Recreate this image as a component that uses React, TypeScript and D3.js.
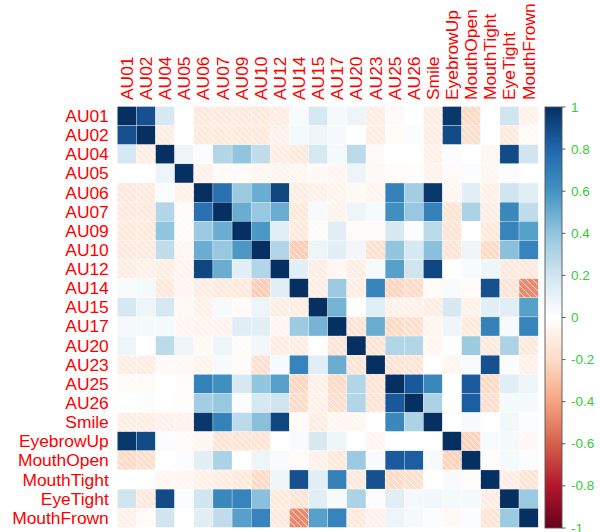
import React from "react";
import * as d3 from "d3";

const labels = ["AU01","AU02","AU04","AU05","AU06","AU07","AU09","AU10","AU12","AU14","AU15","AU17","AU20","AU23","AU25","AU26","Smile","EyebrowUp","MouthOpen","MouthTight","EyeTight","MouthFrown"];

// lower triangle of the correlation matrix (row i: values for columns 0..i-1)
const lower: number[][] = [
  [],
  [0.88],
  [0.18, -0.1],
  [0, 0, 0.08],
  [-0.12, -0.12, 0.02, -0.08],
  [-0.12, -0.12, 0.3, -0.03, 0.75],
  [-0.12, -0.12, 0.4, -0.03, 0.37, 0.5],
  [-0.12, -0.12, 0.25, -0.05, 0.5, 0.38, 0.58],
  [-0.1, -0.08, -0.1, -0.06, 0.92, 0.5, 0.12, 0.3],
  [0.03, 0.05, -0.12, -0.05, -0.1, -0.12, -0.12, -0.25, 0.12],
  [0.18, 0.08, 0.18, -0.04, -0.08, 0.04, -0.03, 0.08, -0.1, -0.1],
  [0.05, 0.05, 0.05, -0.05, -0.06, -0.06, 0.13, 0.12, -0.05, 0.37, 0.47],
  [0.08, 0, 0.27, 0.08, -0.04, 0.08, -0.03, 0.06, -0.1, -0.1, 0.01, -0.15],
  [-0.1, -0.1, -0.03, -0.04, -0.06, 0.04, -0.03, -0.17, 0.04, 0.67, 0.13, 0.5, -0.15],
  [-0.03, -0.03, 0, -0.02, 0.68, 0.62, 0.17, 0.4, 0.55, -0.22, -0.08, -0.2, 0.3, -0.15],
  [0, 0.02, 0, -0.01, 0.35, 0.38, 0.02, 0.18, 0.2, -0.2, -0.08, -0.18, 0.3, -0.15, 0.85],
  [-0.1, -0.1, -0.08, -0.07, 0.97, 0.68, 0.27, 0.42, 0.92, -0.03, -0.1, -0.05, -0.05, 0, 0.65, 0.32],
  [0.97, 0.9, 0.02, -0.03, -0.05, -0.15, -0.15, -0.15, 0, 0.03, 0.17, 0.07, 0.01, -0.05, 0, 0, 0],
  [-0.2, -0.18, 0, 0.02, 0.12, 0.32, 0, 0.08, 0.03, -0.03, -0.08, -0.12, 0.37, 0.03, 0.84, 0.83, 0.04, -0.23],
  [0, 0.01, -0.05, -0.05, -0.08, -0.1, -0.12, -0.2, 0.07, 0.88, 0.12, 0.68, -0.12, 0.88, -0.2, -0.18, 0, 0.03, -0.02],
  [0.2, -0.12, 0.9, 0.02, 0.2, 0.65, 0.67, 0.42, -0.12, -0.15, 0.13, 0.04, 0.32, 0.02, 0.13, 0.05, 0.06, 0.05, 0.05, -0.1],
  [-0.08, -0.03, 0.2, 0, 0.13, 0.25, 0.55, 0.67, -0.12, -0.48, 0.55, 0.67, -0.12, -0.08, 0.08, 0.05, 0.02, -0.04, 0.02, -0.15, 0.37],
];

const legendTicks = [1, 0.8, 0.6, 0.4, 0.2, 0, -0.2, -0.4, -0.6, -0.8, -1];
const paletteColors = ["#67001F", "#B2182B", "#D6604D", "#F4A582", "#FDDBC7", "#FFFFFF", "#D1E5F0", "#92C5DE", "#4393C3", "#2166AC", "#053061"];

const n = labels.length;
const corr: number[][] = labels.map((_, i) =>
  labels.map((_, j) => (i === j ? 1 : i > j ? lower[i][j] : lower[j][i]))
);

const gridLeft = 117.3;
const gridTop = 106.5;
const cell = 19.13;

const x = d3.scaleBand<number>().domain(d3.range(n)).range([gridLeft, gridLeft + n * cell]);
const y = d3.scaleBand<number>().domain(d3.range(n)).range([gridTop, gridTop + n * cell]);

const color = d3
  .scaleLinear<string>()
  .domain(d3.range(11).map((k) => -1 + k * 0.2))
  .range(paletteColors)
  .interpolate(d3.interpolateRgb)
  .clamp(true);

const barX = 545;
const barW = 17;
const barY = d3.scaleLinear().domain([1, -1]).range([gridTop + 0.5, gridTop + 0.5 + 2 * 210.5]);

const FONT = "'Liberation Sans', Arial, Helvetica, sans-serif";

function hatch(x0: number, y0: number, s: number) {
  const segs: [number, number, number, number][] = [];
  for (let k = -2; k <= 2; k++) {
    const t = (k * s) / 3;
    if (t >= 0) segs.push([x0 + t, y0, x0 + s, y0 + s - t]);
    else segs.push([x0, y0 - t, x0 + s + t, y0 + s]);
  }
  return segs;
}

export default function App() {
  const cells: JSX.Element[] = [];
  const lines: JSX.Element[] = [];
  for (let i = 0; i < n; i++) {
    for (let j = 0; j < n; j++) {
      const v = corr[i][j];
      const cx = x(j)!;
      const cy = y(i)!;
      cells.push(
        <rect key={`c${i}-${j}`} x={cx} y={cy} width={x.bandwidth()} height={y.bandwidth()} fill={color(v)} stroke="#ffffff" strokeWidth={0.3} />
      );
      if (v < 0) {
        hatch(cx, cy, x.bandwidth()).forEach((s, k) =>
          lines.push(<line key={`h${i}-${j}-${k}`} x1={s[0]} y1={s[1]} x2={s[2]} y2={s[3]} stroke="#ffffff" strokeWidth={0.9} strokeOpacity={0.85} />)
        );
      }
    }
  }
  const gradStops = d3.range(0, 101).map((k) => {
    const v = 1 - (k / 100) * 2;
    return <stop key={k} offset={`${k}%`} stopColor={color(v)} />;
  });
  return (
    <svg width={600} height={532} style={{ position: "absolute", left: 0, top: 0 }} fontFamily={FONT}>
      <defs>
        <linearGradient id="cbar" x1="0" y1="0" x2="0" y2="1">
          {gradStops}
        </linearGradient>
      </defs>
      <rect x={0} y={0} width={600} height={532} fill="#ffffff" />
      <g>{cells}</g>
      <g>{lines}</g>
      {labels.map((l, i) => (
        <text key={`r${i}`} x={gridLeft - 8.5} y={y(i)! + y.bandwidth() / 2} textAnchor="end" dominantBaseline="central" fill="#ff0000" fontSize={17.4}>
          {l}
        </text>
      ))}
      {labels.map((l, j) => (
        <text key={`t${j}`} transform={`translate(${x(j)! + x.bandwidth() / 2},${gridTop - 6.5}) rotate(-90)`} textAnchor="start" dominantBaseline="central" fill="#ff0000" fontSize={17.4}>
          {l}
        </text>
      ))}
      <rect x={barX} y={barY(1)} width={barW} height={barY(-1) - barY(1)} fill="url(#cbar)" stroke="#555" strokeWidth={0.9} />
      {legendTicks.map((t) => (
        <g key={`lt${t}`}>
          <line x1={barX + barW} x2={barX + barW + 3.5} y1={barY(t)} y2={barY(t)} stroke="#333" strokeWidth={0.8} />
          <text x={barX + barW + 9} y={barY(t)} dominantBaseline="central" fill="#33cc33" fontSize={13.5}>
            {String(t)}
          </text>
        </g>
      ))}
    </svg>
  );
}
